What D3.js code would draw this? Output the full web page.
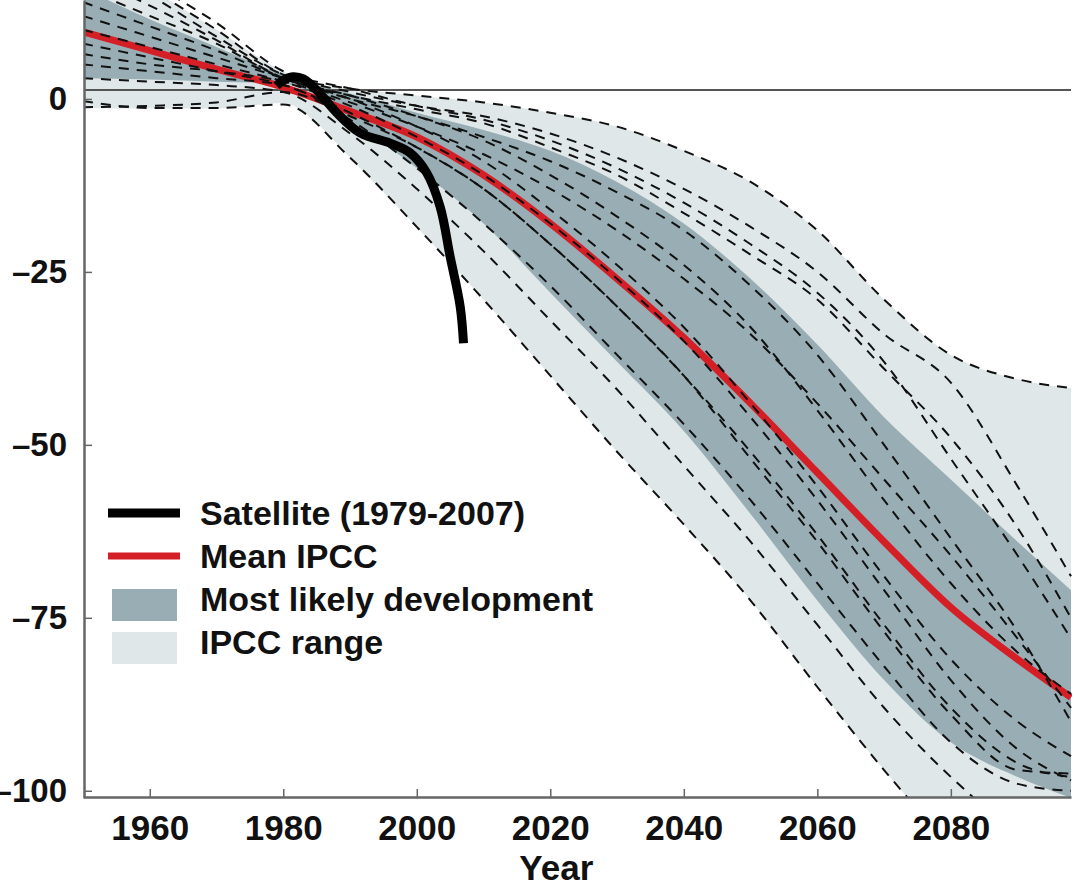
<!DOCTYPE html>
<html>
<head>
    <meta charset="utf-8">
    <title>Arctic sea ice projections</title>
    <script src="https://d3js.org/d3.v7.min.js"></script>
    <style>
        body { margin: 0; background: #fff; }
        svg { display: block; font-family: "Liberation Sans", Arial, sans-serif; font-weight: bold; }
        .axis text { font-weight: bold; fill: #111; }
        .yaxis text { font-size: 33px; }
        .xaxis text { font-size: 35px; }
    </style>
</head>
<body>
    <svg id="chart"></svg>
    <script>
        var svgWidth = 1074;
        var svgHeight = 888;

        // band and mean curves, sampled by year
        var bandYears = [1950, 1960, 1970, 1980, 1985, 1990, 2000, 2010, 2020, 2030, 2040, 2050, 2060, 2070, 2080, 2090, 2098];
        var rangeUpper = [22, 16, 10, 4, 2, 1.5, 0.5, -0.5, -2, -4, -7.5, -12, -19, -29, -37, -40.5, -41.8];
        var rangeLower = [-1.3, -1.4, -1.4, -0.6, -3.5, -8.5, -18.5, -29, -40, -51, -61.5, -72.5, -85, -97, -108, -118, -125];
        var likelyUpper = [16, 11.5, 7.5, 3.5, 2, 0.8, -2, -4.5, -7.5, -12, -18, -26, -35.5, -46, -55, -64, -71];
        var likelyLower = [3, 2.8, 2.5, 2.2, 0.5, -3, -10, -18, -28, -38, -48, -60, -72.5, -84, -93, -98, -101];

        var meanYears = [1950, 1960, 1970, 1980, 1990, 2000, 2010, 2020, 2030, 2040, 2050, 2060, 2070, 2080, 2090, 2098];
        var meanIPCC = [9.7, 7, 4.3, 1.7, -1.8, -5.5, -11, -18, -26, -34.5, -44, -54, -64, -73.5, -81, -86.5];

        var satYears = [1979, 1980, 1981.4, 1983, 1985, 1988, 1991.5, 1996, 1999, 2001.5, 2003.5, 2005, 2006.5, 2007];
        var satellite = [1.9, 2.7, 3.2, 2.9, 1.3, -2.0, -4.9, -6.4, -7.8, -10.7, -15.6, -22.8, -30, -35.3];

        // individual model runs (dashed)
        var runYears = [1950, 1960, 1970, 1980, 1990, 2000, 2010, 2020, 2030, 2040, 2050, 2060, 2070, 2080, 2090, 2098];
        var run1 = [22, 16, 10, 3.5, 1.5, 0.5, -0.5, -2, -4, -7.5, -12, -19, -29, -37, -40.5, -41.8];
        var run2 = [20, 15, 9, 3.5, 1, -1, -2.5, -5, -8.5, -13, -18.5, -25, -34, -41, -56, -69];
        var run3 = [18, 13.5, 8.5, 3, 0.5, -1.5, -3.5, -7, -11, -16.5, -22.5, -29, -39, -49, -62, -75];
        var run4 = [14, 10.5, 7, 3, 0, -2.5, -5.5, -9, -13.5, -19, -27, -37, -50, -63.5, -77, -90];
        var run5 = [6.5, 5, 4, 2.5, -0.5, -4, -8, -13, -19, -26, -34, -44, -55, -66, -78, -88];
        var run6 = [-0.3, -1.3, -1.3, -0.8, -8.5, -18.5, -29, -40, -51, -61.5, -72.5, -85, -97, -108, -118, -125];
        var run7 = [3, 2.5, 2, 1, -5, -13, -22, -32, -42, -53, -64, -76, -88, -98, -106, -110];
        var run8 = [5, 4, 3, 2, -3, -10, -18, -27, -37, -47, -58, -70, -82, -93, -99, -100];
        var run9 = [8, 6, 4, 2, -2, -7, -13, -21, -30, -40, -51, -63, -76, -88, -96, -98];
        var run10 = [-1.2, -1, -0.5, 1, -2.5, -7, -13, -21, -30, -40, -52, -64, -77, -89, -97, -97.5];
        var run11 = [12, 9, 6, 3, 0, -4, -9, -16, -24, -33, -44, -56, -69, -81, -90, -95];
        var run12 = [16, 12, 8, 3, 0.5, -2.5, -6, -11, -17, -24, -33, -45, -58, -70, -80, -86];
        var run13 = [24, 17, 11, 4, 1.5, -1, -3, -6, -10, -15, -21, -28, -38, -52, -66, -78];
        var run14 = [10, 7.5, 5, 2.5, -1, -5.5, -11, -18, -26, -35, -46, -58, -71, -84, -94, -98.5];
        var runs = [run1, run2, run3, run4, run5, run6, run7, run8, run9, run10, run11, run12, run13, run14];

        var xTicks = [1960, 1980, 2000, 2020, 2040, 2060, 2080];
        var yTicks = [0, -25, -50, -75, -100];
        var refLevel = 1.3;

        var legendItems = [
            {label: "Satellite (1979-2007)", kind: "line", color: "#000", width: 9},
            {label: "Mean IPCC", kind: "line", color: "#d51f26", width: 7},
            {label: "Most likely development", kind: "box", color: "#98aeb4"},
            {label: "IPCC range", kind: "box", color: "#dfe7e8"}
        ];

        // note: "top" is taken by window.top, so use plot* names
        var plotLeft = 84, plotRight = 1071, plotTop = 0, plotBottom = 797;

        var x = d3.scaleLinear().domain([1950, 2098]).range([plotLeft - 1, plotRight]);
        var y = d3.scaleLinear().domain([-100.9, 14.3]).range([plotBottom, plotTop]);

        var svg = d3.select("#chart").attr("width", svgWidth).attr("height", svgHeight);

        svg.append("defs").append("clipPath").attr("id", "plot")
            .append("rect").attr("x", plotLeft).attr("y", plotTop)
            .attr("width", plotRight - plotLeft + 1).attr("height", plotBottom - plotTop);

        var g = svg.append("g").attr("clip-path", "url(#plot)");

        var curve = d3.curveMonotoneX;

        function band(upper, lower) {
            return d3.area()
                .x(function (d, i) { return x(bandYears[i]); })
                .y0(function (d, i) { return y(lower[i]); })
                .y1(function (d, i) { return y(upper[i]); })
                .curve(curve)(bandYears);
        }

        g.append("path").attr("d", band(rangeUpper, rangeLower)).attr("fill", "#dfe7e8");
        g.append("path").attr("d", band(likelyUpper, likelyLower)).attr("fill", "#98aeb4");

        g.append("line")
            .attr("x1", plotLeft).attr("x2", plotRight)
            .attr("y1", y(refLevel)).attr("y2", y(refLevel))
            .attr("stroke", "#555").attr("stroke-width", 2);

        var meanLine = d3.line()
            .x(function (d, i) { return x(meanYears[i]); })
            .y(function (d) { return y(d); })
            .curve(curve);

        g.append("path").attr("d", meanLine(meanIPCC))
            .attr("fill", "none").attr("stroke", "#d51f26").attr("stroke-width", 7);

        var runLine = d3.line()
            .x(function (d, i) { return x(runYears[i]); })
            .y(function (d) { return y(d); })
            .curve(curve);

        g.selectAll(".run")
            .data(runs)
            .enter()
            .append("path")
            .attr("class", "run")
            .attr("d", runLine)
            .attr("fill", "none")
            .attr("stroke", "#111")
            .attr("stroke-width", 2)
            .attr("stroke-dasharray", "10,8");

        var satLine = d3.line()
            .x(function (d, i) { return x(satYears[i]); })
            .y(function (d) { return y(d); })
            .curve(d3.curveCatmullRom);

        g.append("path").attr("d", satLine(satellite))
            .attr("fill", "none").attr("stroke", "#000").attr("stroke-width", 9);

        // axes with inward ticks
        svg.append("g").attr("class", "axis yaxis")
            .attr("transform", "translate(" + plotLeft + ",0)")
            .call(d3.axisLeft(y).tickValues(yTicks).tickSizeInner(-8).tickSizeOuter(0).tickPadding(17)
                .tickFormat(function (d) { return d === 0 ? "0" : "\u2013" + Math.abs(d); }));

        svg.append("g").attr("class", "axis xaxis")
            .attr("transform", "translate(0," + plotBottom + ")")
            .call(d3.axisBottom(x).tickValues(xTicks).tickSizeInner(-8).tickSizeOuter(0).tickPadding(18)
                .tickFormat(d3.format("d")));

        svg.selectAll(".axis .domain").attr("stroke", "#666").attr("stroke-width", 2.5);
        svg.selectAll(".axis .tick line").attr("stroke", "#666").attr("stroke-width", 1.5);

        svg.append("text")
            .attr("x", x(2020) + 6).attr("y", 880)
            .attr("text-anchor", "middle")
            .style("font-size", "35px").style("fill", "#111")
            .text("Year");

        // legend
        var legend = svg.append("g").attr("transform", "translate(108,513)");
        var rows = legend.selectAll("g")
            .data(legendItems)
            .enter()
            .append("g")
            .attr("transform", function (d, i) { return "translate(0," + (i * 43) + ")"; });

        rows.filter(function (d) { return d.kind === "line"; })
            .append("line")
            .attr("x1", 0).attr("x2", 72).attr("y1", 0).attr("y2", 0)
            .attr("stroke", function (d) { return d.color; })
            .attr("stroke-width", function (d) { return d.width; });

        rows.filter(function (d) { return d.kind === "box"; })
            .append("rect")
            .attr("x", 4).attr("y", -10).attr("width", 65).attr("height", 32)
            .attr("fill", function (d) { return d.color; });

        rows.append("text")
            .attr("x", 92).attr("y", 12)
            .style("font-size", "34px").style("fill", "#111")
            .text(function (d) { return d.label; });
    </script>
</body>
</html>
